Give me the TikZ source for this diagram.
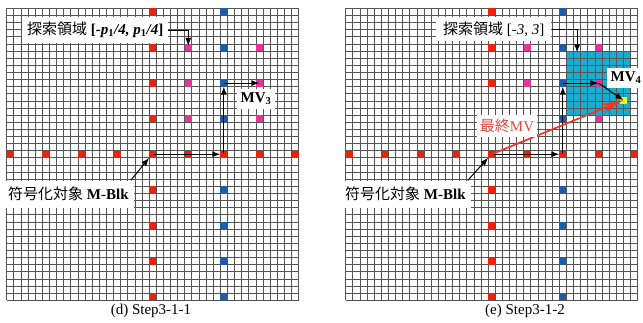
\documentclass[tikz,border=0pt]{standalone}
\usepackage{fontspec}
\setmainfont{Liberation Serif}
\newfontfamily\cjk{Noto Sans CJK JP}
\usetikzlibrary{arrows.meta}

\definecolor{cred}{RGB}{238,34,12}
\definecolor{cblue}{RGB}{30,92,170}
\definecolor{cmag}{RGB}{228,52,150}
\definecolor{ccyan}{RGB}{24,172,208}
\definecolor{cyel}{RGB}{250,245,10}
\definecolor{arrred}{RGB}{250,50,30}
\definecolor{txtred}{RGB}{232,70,60}
\definecolor{gridc}{RGB}{85,85,85}

% one 41x41 block grid with its candidate points; #1 = name prefix, #2 = underlay
\newcommand\panelgrid[2]{%
  #2%
  \foreach \i in {0,...,41} {%
    \draw[gridline] (\i,0) -- (\i,41);
    \draw[gridline] (0,\i) -- (41,\i);
  }
  \foreach \k in {0,5,...,40} {\node[bl] (#1b\k) at (30.5,\k+0.5) {};}
  \foreach \k in {0,5,...,40} {%
    \node[rd] (#1h\k) at (\k+0.5,20.5) {};
    \node[rd] (#1v\k) at (20.5,\k+0.5) {};
  }
  \foreach \c in {25,35} {\foreach \r in {5,10,15} {%
    \node[mg] (#1m\c-\r) at (\c+0.5,\r+0.5) {};}}
}

\begin{document}
\begin{tikzpicture}[x=1pt,y=-1pt,
  font=\fontsize{15}{18}\selectfont,
  gridline/.style={draw=gridc, line width=0.65pt},
  cell/.style={minimum size=7.12pt, inner sep=0pt, outer sep=0pt, draw=none},
  rd/.style={cell, fill=cred},
  bl/.style={cell, fill=cblue},
  mg/.style={cell, fill=cmag},
  yl/.style={cell, fill=cyel},
  arr/.style={line width=1pt, -{Latex[length=8pt,width=6pt]}},
  redarr/.style={line width=1.7pt, arrred, -{Stealth[length=22pt,width=9pt]}},
  lab/.style={fill=white, inner xsep=5pt, inner ysep=0pt}
]
\useasboundingbox (0,0) rectangle (643,322);
\fill[white] (0,0) rectangle (643,322);

% ---------- (d) Step3-1-1 ----------
\begin{scope}[shift={(6.7,8.3)}, x=7.12pt, y=-7.12pt]
  \panelgrid{L}{}
\end{scope}
\draw[arr] (Lh20.center) -- (Lh30.west);
\draw[arr] (Lh30.center) -- (Lb10.south);
\draw[arr] (Lb10.center) -- (Lm35-10.center);

\node[lab, anchor=west, minimum height=26pt] (Lsr) at (22,30)
  {{\cjk 探索領域} \textbf{[\textit{-p}\textsubscript{1}\textit{/4, p}\textsubscript{1}\textit{/4}]}};
\draw[arr] (Lsr.east) -| ([yshift=-2pt]Lm25-5.north);

\node[lab, inner xsep=4pt, minimum height=20pt] (Lmv) at (256,99) {\textbf{MV\textsubscript{3}}};

\node[lab, anchor=west, minimum height=27pt] (Lmb) at (3,194)
  {{\cjk 符号化対象} \textbf{M-Blk}};
\draw[arr] ([xshift=-3pt]Lmb.north east) -- (Lh20.south west);

\node (Lcap) at (151,311) {(d) Step3-1-1};

% ---------- (e) Step3-1-2 ----------
\begin{scope}[shift={(345.7,8.3)}, x=7.12pt, y=-7.12pt]
  \panelgrid{R}{\fill[ccyan] (31,6) rectangle (40,15);}
  \node[yl] (Ryel) at (39,12.9) {};
  \coordinate (Rtop) at (32.5,6.2);
\end{scope}
\draw[arr] (Rh20.center) -- (Rh30.west);
\draw[arr] (Rh30.center) -- (Rb10.south);
\draw[arr] (Rb10.center) -- (Rm35-10.center);
\draw[arr] (Rm35-10.center) -- (Ryel.center);
\draw[redarr] (Rh20.center) -- (Ryel.center);

\node[lab, anchor=west, minimum height=24pt, inner xsep=7pt] (Rsr) at (436,29)
  {{\cjk 探索領域} [\textit{-3, 3}]};
\draw[arr] (Rsr.east) -| (Rtop);

\node[lab, inner xsep=4pt, minimum height=20pt] (Rmv) at (626,78) {\textbf{MV\textsubscript{4}}};

\node[lab, text=txtred, inner xsep=3pt, minimum height=22pt] (Rfin) at (507,126) {{\cjk 最終}MV};

\node[lab, anchor=west, minimum height=27pt] (Rmb) at (340,194)
  {{\cjk 符号化対象} \textbf{M-Blk}};
\draw[arr] ([xshift=-3pt]Rmb.north east) -- (Rh20.south west);

\node (Rcap) at (525,311) {(e) Step3-1-2};
\end{tikzpicture}
\end{document}
